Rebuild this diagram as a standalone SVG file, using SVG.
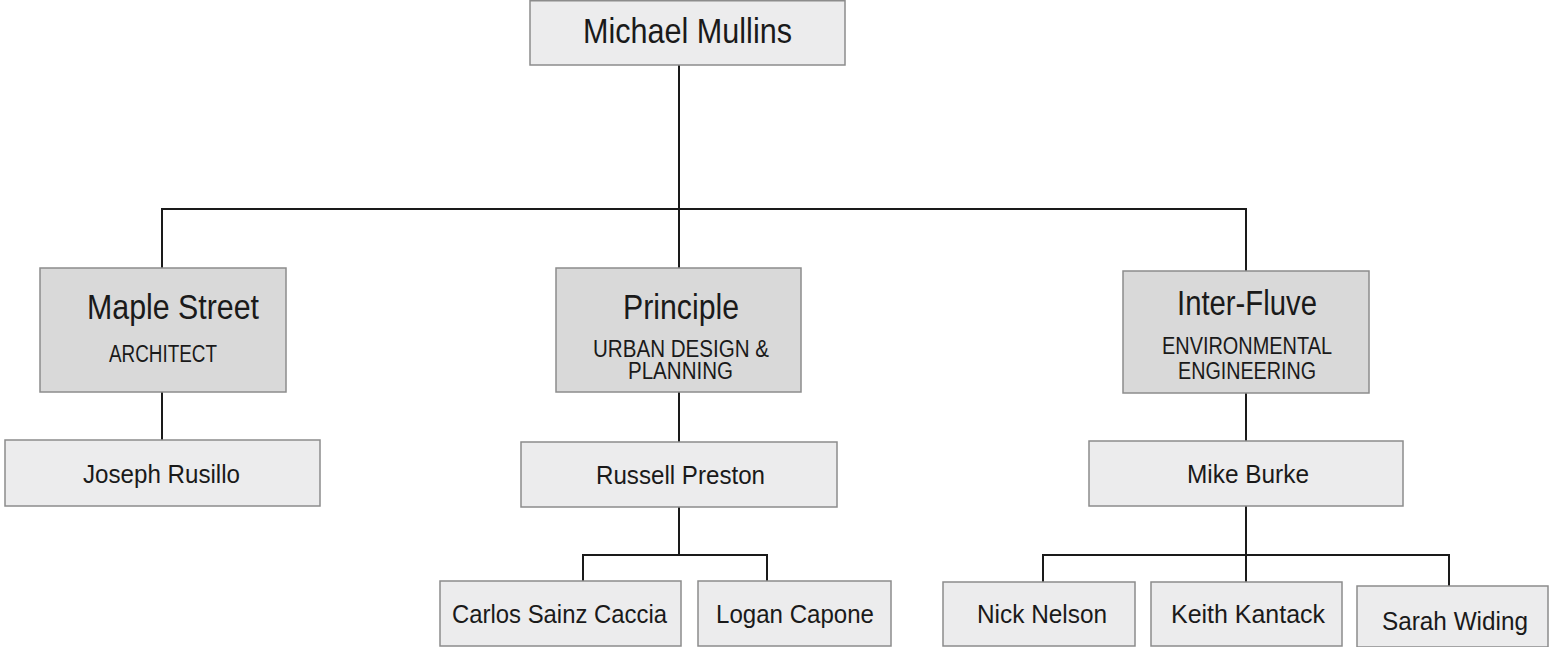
<svg xmlns="http://www.w3.org/2000/svg" width="1549" height="647" viewBox="0 0 1549 647">
<style>
.light{fill:#ececed;stroke:#8c8c8c;stroke-width:1.5}
.dark{fill:#d9d9d9;stroke:#8c8c8c;stroke-width:1.5}
text{font-family:"Liberation Sans",Arial,sans-serif;fill:#1a1a1a;text-anchor:middle}
.big{font-size:35px}
.name{font-size:26px}
.sub{font-size:23px}
.con{fill:none;stroke:#1a1a1a;stroke-width:2}
</style>
<rect width="1549" height="647" fill="#ffffff"/>
<g id="connectors" class="con">
<path d="M679 65V268"/>
<path d="M162 268V209H1246V271"/>
<path d="M162 392V440"/>
<path d="M679 392V442"/>
<path d="M1246 393V441"/>
<path d="M679 507V555"/>
<path d="M583 581V555H767V581"/>
<path d="M1246 506V582"/>
<path d="M1043 582V555H1449V586"/>
</g>
<g id="michael-mullins">
<rect class="light" x="530" y="0.75" width="315" height="64.25"/>
<text class="big" x="687.5" y="43" font-size="36" textLength="209" lengthAdjust="spacingAndGlyphs">Michael Mullins</text>
</g>
<g id="maple-street">
<rect class="dark" x="40" y="268" width="246" height="124"/>
<text class="big" x="173" y="319" textLength="172" lengthAdjust="spacingAndGlyphs">Maple Street</text>
<text class="sub" x="163" y="362" textLength="108" lengthAdjust="spacingAndGlyphs">ARCHITECT</text>
</g>
<g id="principle">
<rect class="dark" x="556" y="268" width="245" height="124"/>
<text class="big" x="681" y="319" textLength="116" lengthAdjust="spacingAndGlyphs">Principle</text>
<text class="sub" x="681" y="357" textLength="176" lengthAdjust="spacingAndGlyphs">URBAN DESIGN &amp;</text>
<text class="sub" x="680.5" y="379" textLength="105" lengthAdjust="spacingAndGlyphs">PLANNING</text>
</g>
<g id="inter-fluve">
<rect class="dark" x="1123" y="271" width="246" height="122"/>
<text class="big" x="1247" y="315" textLength="140" lengthAdjust="spacingAndGlyphs">Inter-Fluve</text>
<text class="sub" x="1247" y="354" textLength="170" lengthAdjust="spacingAndGlyphs">ENVIRONMENTAL</text>
<text class="sub" x="1247" y="379" textLength="138" lengthAdjust="spacingAndGlyphs">ENGINEERING</text>
</g>
<g id="joseph-rusillo">
<rect class="light" x="5" y="440" width="315" height="66"/>
<text class="name" x="161.5" y="483" textLength="157" lengthAdjust="spacingAndGlyphs">Joseph Rusillo</text>
</g>
<g id="russell-preston">
<rect class="light" x="521" y="442" width="316" height="65"/>
<text class="name" x="680.5" y="484" textLength="169" lengthAdjust="spacingAndGlyphs">Russell Preston</text>
</g>
<g id="mike-burke">
<rect class="light" x="1089" y="441" width="314" height="65"/>
<text class="name" x="1248" y="483" textLength="122" lengthAdjust="spacingAndGlyphs">Mike Burke</text>
</g>
<g id="carlos-sainz-caccia">
<rect class="light" x="440" y="581" width="241" height="65"/>
<text class="name" x="559.5" y="623" textLength="215" lengthAdjust="spacingAndGlyphs">Carlos Sainz Caccia</text>
</g>
<g id="logan-capone">
<rect class="light" x="698" y="581" width="193" height="65"/>
<text class="name" x="795" y="623" textLength="158" lengthAdjust="spacingAndGlyphs">Logan Capone</text>
</g>
<g id="nick-nelson">
<rect class="light" x="943" y="582" width="192" height="64"/>
<text class="name" x="1042" y="623" textLength="130" lengthAdjust="spacingAndGlyphs">Nick Nelson</text>
</g>
<g id="keith-kantack">
<rect class="light" x="1151" y="582" width="191" height="64"/>
<text class="name" x="1248" y="623" textLength="154" lengthAdjust="spacingAndGlyphs">Keith Kantack</text>
</g>
<g id="sarah-widing">
<rect class="light" x="1357" y="586" width="191" height="61"/>
<text class="name" x="1455" y="630" textLength="146" lengthAdjust="spacingAndGlyphs">Sarah Widing</text>
</g>
</svg>
